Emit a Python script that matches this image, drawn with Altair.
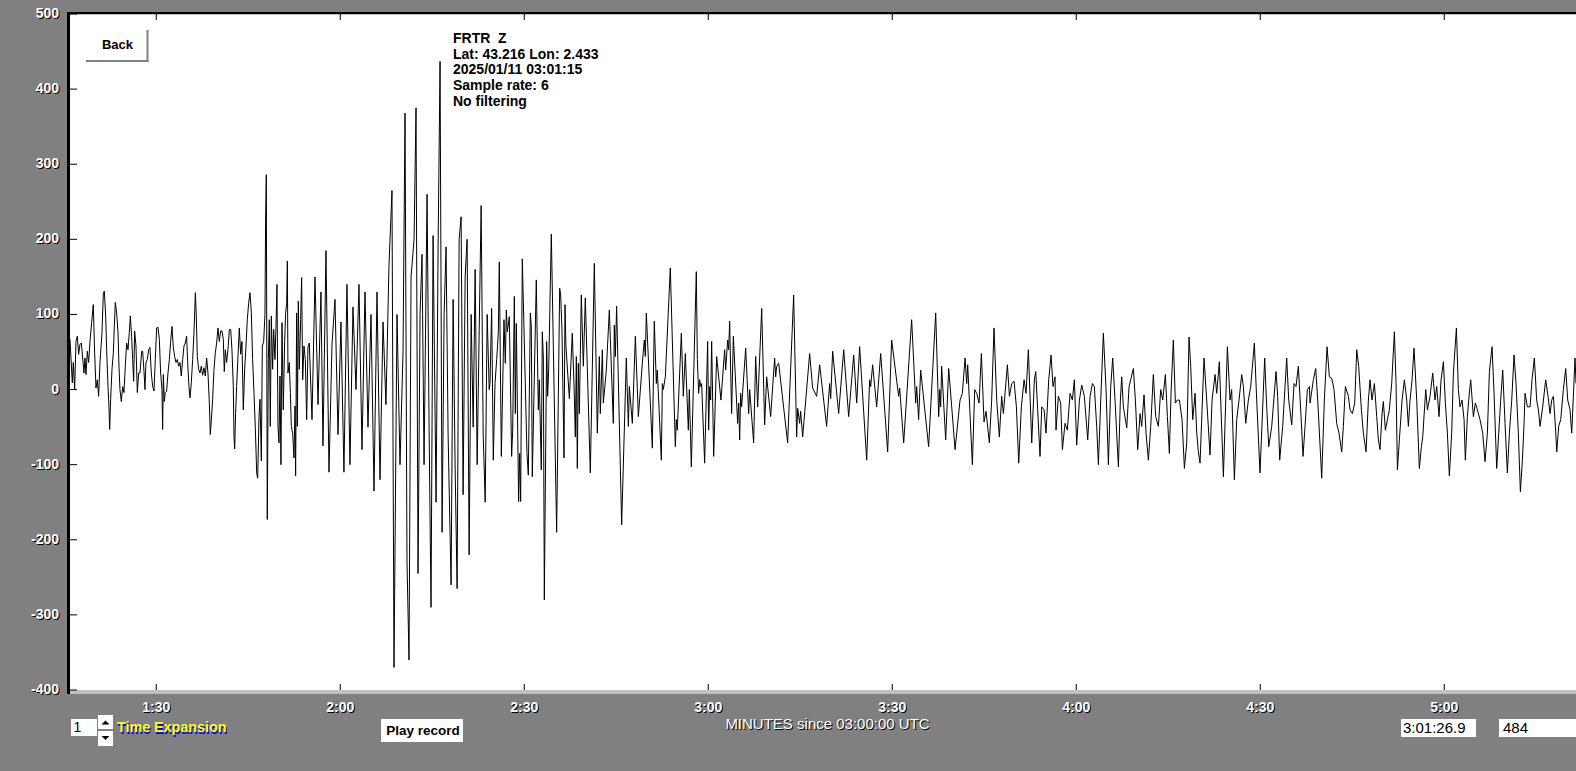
import altair as alt
import pandas as pd

FONT = "Liberation Sans"

# ---- waveform: (seconds since 03:00:00 UTC, counts) ----
SEG_A = [(75.93, 67), (76.31, 9), (76.47, 36), (76.69, 0), (76.91, 64), (77.13, 71), (77.34, 47), (77.56, 60),
         (77.78, 62), (78.0, 42), (78.21, 22), (78.38, 42), (78.54, 20), (78.76, 51), (78.97, 36), (79.19, 64),
         (79.46, 89), (79.73, 113), (79.95, 49), (80.17, 2), (80.39, 13), (80.60, -9), (80.82, 36), (81.15, 76),
         (81.37, 129), (81.53, 131), (81.75, 98), (81.91, 53), (82.13, 4), (82.29, -24), (82.40, -53), (82.56, -13),
         (82.78, 27), (83.0, 49), (83.16, 84), (83.32, 116), (83.54, 102), (83.76, 76), (83.92, 31), (84.08, 0),
         (84.30, -16), (84.52, 4), (84.73, -4), (84.95, 31), (85.17, 62), (85.39, 53), (85.60, 76), (85.77, 98),
         (85.98, 71), (86.15, 40), (86.31, 11), (86.47, 78), (86.69, 58), (86.91, -4), (87.13, 22), (87.34, 22),
         (87.62, 51), (87.78, 51), (88.0, 24), (88.16, 0), (88.32, 36), (88.54, 40), (88.76, 53), (88.97, 56),
         (89.19, 22), (89.41, 4), (89.63, -2), (89.84, 40), (90.06, 82), (90.28, 83), (90.50, 67), (90.71, 22),
         (90.93, 0), (91.04, -53), (91.15, 20), (91.31, -16), (91.47, -4), (91.69, -2), (91.91, 22), (92.13, 40),
         (92.34, 64), (92.56, 84), (92.78, 56), (93.0, 44), (93.21, 36), (93.43, 40), (93.65, 31), (93.87, 36),
         (94.08, 18), (94.30, 40), (94.52, 58), (94.73, 62), (94.95, 71), (95.12, 36), (95.33, 4), (95.50, -11),
         (95.71, 9), (95.93, 40), (96.15, 76), (96.37, 129), (96.53, 98), (96.69, 44), (96.91, 27), (97.13, 22),
         (97.34, 31), (97.56, 19), (97.78, 29), (98.0, 18), (98.21, 42), (98.43, 22), (98.65, -18), (98.81, -60),
         (98.97, -42), (99.19, -13), (99.41, 27), (99.63, 49), (99.84, 62), (100.06, 82), (100.28, 64), (100.50, 78),
         (100.71, 78), (100.93, 67), (101.09, 24), (101.26, 53), (101.47, 36), (101.69, 53), (101.91, 80), (102.13, 80),
         (102.34, 53), (102.56, 4), (102.67, -62), (102.78, -79), (102.94, -31), (103.10, 4), (103.32, 44), (103.54, 82),
         (103.76, 47), (103.97, 64), (104.19, -27), (104.41, 27), (104.63, 58), (104.84, 93), (105.06, 115), (105.28, 129),
         (105.50, 102), (105.71, 40), (105.93, -4), (106.15, -51), (106.37, -111), (106.53, -118), (106.75, -36),
         (106.91, -13), (107.13, -95), (107.29, 58), (107.51, 64), (107.72, 100), (107.83, 231), (107.94, 286),
         (108.10, -173), (108.27, 40), (108.43, 93), (108.59, -49), (108.76, 98), (108.97, 27), (109.14, 80),
         (109.35, 40), (109.52, 84), (109.68, 140), (109.84, -49), (110.01, -71), (110.17, 18), (110.33, -100),
         (110.50, 89), (110.71, -27), (110.93, 64), (111.09, 102), (111.26, 115), (111.37, 171), (111.47, 22),
         (111.69, 36), (111.86, -4), (112.02, -49), (112.24, -58), (112.45, -91), (112.62, -22), (112.72, -115),
         (112.89, 102), (113.0, -49), (113.16, 118), (113.32, 27), (113.54, 93), (113.70, 149), (113.87, 13),
         (114.08, 58), (114.30, 40), (114.52, -40), (114.73, 56), (114.95, 62)]

SEG_B = [(115.39, -40), (115.88, 150), (116.37, -20), (116.85, 130), (117.18, -75), (117.67, 185), (118.16, -110),
         (118.65, 60), (119.14, 120), (119.63, -60), (120.11, 90), (120.60, -110), (121.09, 140), (121.58, -100),
         (122.07, 110), (122.56, 0), (123.05, 140), (123.54, -80), (124.03, 130), (124.52, -50), (125.01, 100),
         (125.50, -135), (125.99, 130), (126.48, -120), (126.97, 90), (127.45, -20), (127.94, 165), (128.43, 265),
         (128.76, -370), (129.25, 100), (129.74, -100), (130.23, 50), (130.56, 368), (130.88, -230), (131.21, -360),
         (131.54, 150), (132.03, 200), (132.35, 375), (132.68, -245), (133.01, 100), (133.33, 180), (133.66, -100),
         (134.15, 260), (134.48, -50), (134.80, -290), (135.13, 205), (135.62, -150), (135.95, 190), (136.27, 437),
         (136.60, -190), (136.93, 100), (137.25, 190), (137.58, -60), (138.07, -260), (138.40, 120), (138.72, -100),
         (139.05, -265), (139.38, 200), (139.70, 230), (140.03, -140), (140.36, 150), (140.68, 200), (141.01, -220),
         (141.34, 100), (141.67, -50), (141.99, 160), (142.32, -100), (142.65, 80), (142.97, 245), (143.30, -60),
         (143.63, -150), (143.95, 100), (144.28, 0)]

SEG_C = [(144.41, 8), (144.68, 108), (144.95, -94), (145.23, 8), (145.50, 40), (145.77, 75), (145.93, 170),
         (146.26, -89), (146.69, 93), (146.91, 35), (147.07, 106), (147.24, 77), (147.56, 97), (147.94, -89),
         (148.11, -54), (148.38, 124), (148.54, -32), (148.70, 88), (149.08, -149), (149.25, -85), (149.41, -149),
         (149.68, 174), (150.44, -85), (150.66, -114), (150.99, 102), (151.15, 84), (151.31, -116), (151.96, 146),
         (152.29, -27), (152.45, 13), (152.78, -107), (152.94, 77), (153.11, 42), (153.27, -280), (153.65, 64),
         (153.81, -9), (153.98, 26), (154.41, 207), (155.28, -190), (155.77, 135), (155.93, 126), (156.15, 79),
         (156.48, -91), (156.64, 113), (156.80, 57), (157.35, -12), (157.83, 75), (158.16, -7), (158.32, -63),
         (158.49, 44), (158.65, -105), (158.81, 35), (158.98, -32), (159.30, 126), (159.63, 31), (159.95, 122),
         (160.77, -111), (161.42, 168), (161.91, -58), (162.24, 44), (162.40, -32), (162.73, 53), (162.89, -18),
         (163.38, 26), (163.87, 106), (164.52, -45), (164.68, 86), (164.85, 44), (165.06, 111), (165.88, -180),
         (166.64, 42), (166.97, -49), (167.13, 4), (167.62, -45), (168.11, 71), (168.60, -36), (169.25, 35),
         (169.57, 66), (169.74, 44), (169.90, 102), (170.88, -78), (171.20, 91), (171.53, 8), (171.69, 26),
         (172.35, -94), (172.51, 8), (172.67, 0), (173.0, 17), (173.81, 162), (174.63, -76), (174.79, -40),
         (174.95, -54), (175.61, 75), (175.93, -9), (176.26, 48), (176.75, -54), (176.91, 0), (177.24, -103),
         (178.05, 157)]

SEG_D = [(178.22, 40), (178.43, -5), (178.60, 13), (178.76, 4), (178.92, 8), (179.41, -98), (179.90, 64),
         (180.06, -54), (180.23, 4), (180.39, -14), (180.55, 64), (180.88, -89), (181.37, 44), (182.07, -14),
         (182.67, 53), (182.84, 26), (183.16, 66), (183.32, 53), (183.49, 91), (183.65, 26), (183.81, -32),
         (184.09, 71), (184.79, -45), (184.96, -18), (185.12, -67), (185.28, -5), (185.44, -23), (186.10, 55),
         (186.59, -32), (186.75, 0), (187.40, -71), (187.73, 44), (188.05, -23), (188.71, 108), (189.19, -47),
         (189.52, 17), (190.17, -36), (190.82, 42), (190.99, 17), (191.15, 31), (191.48, 35), (192.94, -71),
         (193.92, 126), (194.41, -63), (194.58, -25), (194.90, -45), (195.06, -29), (195.39, -63), (196.53, 48),
         (197.02, 2), (197.67, -9), (198.16, 33), (199.30, -49), (199.79, 8), (199.96, -12), (200.28, 51),
         (201.26, -32), (202.08, 53), (202.89, -36), (203.71, 46), (204.20, -18), (204.68, 57), (205.83, -94),
         (206.31, 13), (206.48, 4), (206.80, 33), (207.46, -23), (208.11, 48), (209.25, -83), (209.90, 66),
         (211.04, -9), (211.21, 2), (211.86, -71), (213.16, 93), (213.82, -18), (213.98, 4), (214.30, -40),
         (214.63, 26), (215.93, -76), (217.08, 102), (217.57, -36), (217.73, 0), (217.89, -23), (218.05, 31),
         (218.71, -67), (219.20, 28)]

SEG_E = [(220.24, -80), (221.05, -14), (221.43, -5), (221.87, 42), (222.14, 8), (222.30, 33), (223.06, -100),
         (223.44, 0), (223.77, -5), (224.15, -18), (224.53, 48), (224.96, -43), (225.29, -29), (225.83, -71),
         (226.21, -14), (226.59, 82), (227.03, -14), (227.46, -63), (227.84, -9), (228.12, -32), (228.77, 33),
         (229.10, -9), (229.48, 8), (229.86, 11), (230.24, -23), (230.62, -98), (231.05, -23), (231.49, 13),
         (231.81, -5), (232.19, 53), (232.74, -71), (233.17, 13), (233.39, 24), (233.71, -27), (234.09, -89),
         (234.37, -23), (234.75, -27), (235.07, -58), (235.51, 13), (235.89, 46), (236.21, 4), (236.54, 17),
         (236.70, -54), (237.08, -9), (237.46, -18), (237.74, -80), (238.17, -45), (238.55, -54), (238.99, -5),
         (239.37, -14), (239.69, 13), (240.07, -74), (240.51, -14), (240.89, 6), (241.32, -9), (241.87, -67),
         (242.25, -9), (242.63, 8), (242.95, 4), (243.33, -49), (243.61, -100), (243.99, -14), (244.42, 75),
         (244.86, 0), (245.24, -100), (245.62, 4), (245.94, 42), (246.32, -14), (246.87, -103), (247.19, -14),
         (247.41, 17), (247.68, -23), (248.23, -51), (248.61, 4), (248.93, 15), (249.31, 28), (249.64, -14),
         (250.02, -80), (250.40, -32), (250.67, -49), (251.05, -7), (251.38, -58), (251.76, -94), (252.14, -49),
         (252.57, 20), (252.95, -36), (253.39, -49), (253.77, 0), (254.10, -14), (254.53, 20), (254.86, -36),
         (255.18, -85), (255.45, -5), (255.83, 66), (256.16, -18), (256.49, -14), (256.81, -14), (257.25, -40),
         (257.63, -105), (258.01, -71), (258.39, 70), (258.66, 31), (258.99, -40), (259.37, -5), (259.64, -58),
         (259.91, -83)]

SEG_F = [(260.18, -98), (260.83, 42), (261.27, -14), (261.81, -87), (262.14, -14), (262.63, 20), (262.90, -5),
         (263.33, 37), (263.99, -116), (264.64, 57), (265.07, -14), (265.34, 0), (265.78, -120), (266.16, -40),
         (266.54, -14), (266.97, 20), (267.25, 4), (267.63, -45), (268.06, -14), (268.44, 4), (269.04, 62),
         (269.42, -14), (269.96, -111), (270.40, -23), (270.72, 42), (271.05, -23), (271.38, -76), (271.87, -49),
         (272.57, 24), (272.84, -9), (273.17, -94), (273.66, -49), (274.31, 42), (274.64, -14), (275.13, -47),
         (275.51, 8), (275.83, 4), (276.21, 31), (276.65, -36), (276.97, -89), (277.30, -49), (277.68, 0),
         (278.01, 4), (278.12, -18), (278.66, 13), (279.04, 28), (279.37, -14), (280.02, -118), (280.45, -14),
         (280.89, 57), (281.27, 17), (281.65, 15), (282.03, 0), (282.46, -45), (282.84, -58), (283.28, -83),
         (283.55, -49), (283.88, 4), (284.37, -9), (284.64, -27), (285.02, -32), (285.40, -18), (285.73, 53),
         (286.05, 31), (286.49, -27), (286.81, -58), (287.25, -83), (287.63, -14), (287.90, 13), (288.22, -14),
         (288.61, 8), (288.99, -36), (289.26, -67), (289.53, -80), (289.86, -32), (290.07, -16), (290.40, -54),
         (291.05, -27), (291.43, 8), (291.87, 77), (292.14, 8), (292.36, -107), (292.68, -67)]

SEG_G = [(292.79, -54), (293.12, -14), (293.50, 13), (293.88, -14), (294.15, -49), (294.42, -14), (294.75, 13),
         (295.07, 55), (295.51, -14), (295.94, -105), (296.27, -76), (296.49, -63), (296.87, -14), (296.98, 0),
         (297.25, -27), (297.68, -9), (298.12, 22), (298.50, -14), (298.77, 4), (299.15, -36), (299.48, 13),
         (299.86, 37), (300.18, -18), (300.51, -58), (300.83, -115), (301.21, -58), (301.49, 22), (301.98, 82),
         (302.30, 0), (302.57, -23), (302.90, -14), (303.23, -40), (303.44, -94), (303.77, -36), (303.99, -14),
         (304.31, 13), (304.75, -36), (305.07, -18), (305.40, -27), (305.83, -40), (306.27, -58), (306.65, -96),
         (307.03, -58), (307.36, 24), (307.79, 57), (308.12, -5), (308.55, -105), (308.88, -58), (309.20, -14),
         (309.53, 26), (309.91, -45), (310.29, -111), (310.62, -58), (311.0, -14), (311.38, 46), (311.70, 8),
         (312.08, -58), (312.41, -136), (312.74, -94), (313.01, -45), (313.17, -5), (313.55, -23), (313.99, -23),
         (314.31, 13), (314.69, 42), (315.07, -14), (315.35, -27), (315.62, -49), (316.05, -23), (316.54, 13),
         (316.92, -9), (317.25, -32), (317.52, -14), (317.79, -9), (318.12, -49), (318.34, -83), (318.66, -49),
         (318.99, -40), (319.42, 0), (319.80, 28), (320.13, -14), (320.51, -27), (320.78, -58), (321.05, -9),
         (321.32, 42), (321.49, 8)]

# ---- axes and annotations ----
X_DOMAIN = [75.77, 321.48]
Y_DOMAIN = [-400, 500]
Y_TICKS = [-400, -300, -200, -100, 0, 100, 200, 300, 400, 500]
X_TICKS = [90, 120, 150, 180, 210, 240, 270, 300]
X_LABELS = ["1:30", "2:00", "2:30", "3:00", "3:30", "4:00", "4:30", "5:00"]
INFO_LINES = ["FRTR\u00a0 Z", "Lat: 43.216 Lon: 2.433", "2025/01/11 03:01:15", "Sample rate: 6", "No filtering"]
AXIS_TITLE = "MINUTES since 03:00:00 UTC"
BACK_LABEL = "Back"
EXPANSION_VALUE = "1"
EXPANSION_LABEL = "Time Expansion"
PLAY_LABEL = "Play record"
CURSOR_TIME = "3:01:26.9"
CURSOR_VALUE = "484"

W, H = 1507, 676

wave = pd.DataFrame(SEG_A + SEG_B + SEG_C + SEG_D + SEG_E + SEG_F + SEG_G, columns=["t", "v"])
ydf = pd.DataFrame({"v": Y_TICKS, "lab": [str(v) for v in Y_TICKS]})
xdf = pd.DataFrame({"t": X_TICKS, "lab": X_LABELS})

xs = alt.Scale(domain=X_DOMAIN, nice=False, zero=False)
ys = alt.Scale(domain=Y_DOMAIN, nice=False, zero=False)


def XE():
    return alt.X("t:Q", scale=xs, axis=None)


def YE():
    return alt.Y("v:Q", scale=ys, axis=None)


ONE = alt.Data(values=[{"k": 0}])


def box(x1, y1, x2, y2, color):
    return alt.Chart(ONE).mark_rect(color=color).encode(
        x=alt.value(x1), x2=alt.value(x2), y=alt.value(y1), y2=alt.value(y2))


def label(x, y, text, color, size=14, align="left", weight="bold"):
    return alt.Chart(ONE).mark_text(
        align=align, baseline="middle", font=FONT, fontSize=size, fontWeight=weight, color=color
    ).encode(x=alt.value(x), y=alt.value(y), text=alt.value(text))


layers = []

# trace
layers.append(alt.Chart(wave).mark_line(color="black", strokeWidth=1, clip=True).encode(x=XE(), y=YE()))

# frame
layers.append(box(-2, -2, 1, 680, "black"))
layers.append(box(-2, -2, W, 0, "black"))
layers.append(box(1, 677, W, 680, "#c0c0c0"))

# y ticks and labels
layers.append(alt.Chart(ydf).mark_rule(color="black", strokeWidth=1).encode(
    y=YE(), x=alt.value(1), x2=alt.value(8)))
for col, off in (("black", 1), ("white", 0)):
    layers.append(alt.Chart(ydf).mark_text(
        align="right", baseline="middle", font=FONT, fontSize=14, fontWeight="bold", color=col,
        dx=off, dy=off).encode(y=YE(), x=alt.value(-10), text="lab:N"))

# x ticks (top and bottom) and labels
layers.append(alt.Chart(xdf).mark_rule(color="black", strokeWidth=1).encode(
    x=XE(), y=alt.value(670), y2=alt.value(676)))
layers.append(alt.Chart(xdf).mark_rule(color="black", strokeWidth=1).encode(
    x=XE(), y=alt.value(0), y2=alt.value(6)))
for col, off in (("black", 1), ("white", 0)):
    layers.append(alt.Chart(xdf).mark_text(
        align="center", baseline="middle", font=FONT, fontSize=14, fontWeight="bold", color=col,
        dx=off, dy=off).encode(x=XE(), y=alt.value(694), text="lab:N"))

# axis title
layers.append(label(759.5, 711.3, AXIS_TITLE, "black", 15, "center", "normal"))
layers.append(label(758.5, 710.3, AXIS_TITLE, "white", 15, "center", "normal"))

# Back button
layers.append(box(77.5, 16, 79.5, 48, "#808080"))
layers.append(box(17, 46, 79.5, 48, "#808080"))
layers.append(label(48.5, 31, BACK_LABEL, "black", 13, "center"))

# station info
for i, line in enumerate(INFO_LINES):
    layers.append(label(384, 24.8 + 15.8 * i, line, "black", 14, "left"))

# time expansion widget
layers.append(box(2, 705, 28, 722, "white"))
layers.append(label(4.5, 713.5, EXPANSION_VALUE, "black", 14, "left", "normal"))
layers.append(box(29, 701, 44, 715, "white"))
layers.append(box(29, 717, 44, 732, "white"))
layers.append(alt.Chart(ONE).mark_point(shape="M-1,0.5L1,0.5L0,-0.5Z", filled=True, color="black",
                                         opacity=1, size=64).encode(x=alt.value(36.5), y=alt.value(708.5)))
layers.append(alt.Chart(ONE).mark_point(shape="M-1,-0.5L1,-0.5L0,0.5Z", filled=True, color="black",
                                         opacity=1, size=64).encode(x=alt.value(36.5), y=alt.value(724)))
layers.append(label(49, 715.5, EXPANSION_LABEL, "#0000ff", 14.3, "left"))
layers.append(label(48, 713.5, EXPANSION_LABEL, "#ffff00", 14.3, "left"))

# play button
layers.append(box(312, 705, 394, 728, "white"))
layers.append(label(354, 716.5, PLAY_LABEL, "black", 13.5, "center"))

# cursor read-outs
layers.append(box(1332, 705, 1407, 723, "white"))
layers.append(label(1334, 714, CURSOR_TIME, "black", 15, "left", "normal"))
layers.append(box(1430, 705, 1510, 723, "white"))
layers.append(label(1434, 714, CURSOR_VALUE, "black", 15, "left", "normal"))

chart = alt.layer(*layers).properties(
    width=W, height=H,
    background="#808080",
    padding={"left": 69, "top": 14, "right": 0, "bottom": 81},
    autosize=alt.AutoSizeParams(type="none"),
).configure_view(fill="white", stroke="transparent")

chart.save("out.html", embed_options={
    "renderer": "svg", "actions": False,
    "defaultStyle": "html,body{margin:0;padding:0;overflow:hidden;background:#808080}"})
